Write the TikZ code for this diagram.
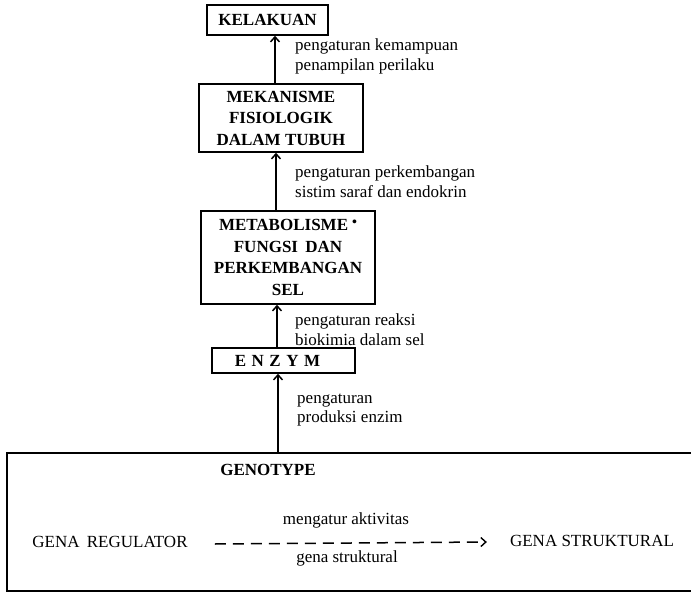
\documentclass[tikz,border=0pt]{standalone}
\usepackage{fontspec}
\setmainfont{Liberation Serif}
\usetikzlibrary{arrows.meta}
\begin{document}
\begin{tikzpicture}[x=1pt,y=-1pt,
  box/.style={draw, line width=1.6pt, inner sep=0pt, align=center,
    font=\fontsize{17}{21.5}\selectfont\bfseries},
  lbl/.style={anchor=west, align=left, inner sep=0pt,
    font=\fontsize{17}{19.5}\selectfont},
  plain/.style={inner sep=0pt, font=\fontsize{17}{19.5}\selectfont},
  up/.style={line width=1.8pt, -{Straight Barb[length=5pt,width=9pt,line width=1.5pt]}},
  dasharrow/.style={line width=1.5pt, dash pattern=on 11pt off 7pt,
    -{Straight Barb[length=5pt,width=9pt,line width=1.4pt]}},
]
\useasboundingbox (0,0) rectangle (691,594);

% boxes
\node[box, minimum width=121pt, minimum height=30pt] (kel) at (267.5,20) {KELAKUAN};
\node[box, minimum width=164pt, minimum height=68pt] (mek) at (281,118)
  {MEKANISME\\FISIOLOGIK\\DALAM TUBUH};
\node[box, minimum width=174pt, minimum height=93pt] (met) at (288,257.5)
  {METABOLISME\hspace{4pt}\raisebox{0.6ex}{\fontsize{14}{14}\selectfont •}\\FUNGSI\hspace{3pt} DAN\\PERKEMBANGAN\\SEL};
\node[box, minimum width=143pt, minimum height=25pt] (enz) at (283.5,360.5)
  {E\hspace{5.5pt}N\hspace{5.5pt}Z\hspace{5.5pt}Y\hspace{5.5pt}M\hspace{12pt}};
\node[draw, line width=1.6pt, minimum width=693pt, minimum height=138pt, inner sep=0pt]
  (geno) at (353.5,522) {};

% labels on vertical arrows
\node[lbl] (l1) at (295,56.5) {pengaturan kemampuan\\penampilan perilaku};
\node[lbl] (l2) at (295,181.5) {pengaturan perkembangan\\sistim saraf dan endokrin};
\node[lbl] (l3) at (295,329.5) {pengaturan reaksi\\biokimia dalam sel};
\node[lbl] (l4) at (297,410) {pengaturan\\produksi enzim};

% vertical arrows
\draw[up] ([xshift=-6pt]mek.north) -- ([xshift=7.5pt]kel.south);
\draw[up] ([xshift=-12pt]met.north) -- ([xshift=-5pt]mek.south);
\draw[up] ([xshift=-6.5pt]enz.north) -- ([xshift=-11pt]met.south);
\path ([xshift=-5.5pt]enz.south) coordinate (e4);
\draw[up] (e4 |- geno.north) -- (e4);

% genotype content
\node[plain, font=\fontsize{17}{19.5}\selectfont\bfseries] (gt) at (268,470) {GENOTYPE};
\node[plain] (greg) at (110,542) {GENA\hspace{3pt} REGULATOR};
\node[plain] (gstr) at (592,541) {GENA STRUKTURAL};
\node[plain] (ma) at (346,520) {mengatur aktivitas};
\node[plain] (gs) at (347,558) {gena struktural};
\draw[dasharrow] ([xshift=27pt,yshift=-2pt]greg.east) -- ([xshift=-23pt,yshift=-1pt]gstr.west);
\end{tikzpicture}
\end{document}
